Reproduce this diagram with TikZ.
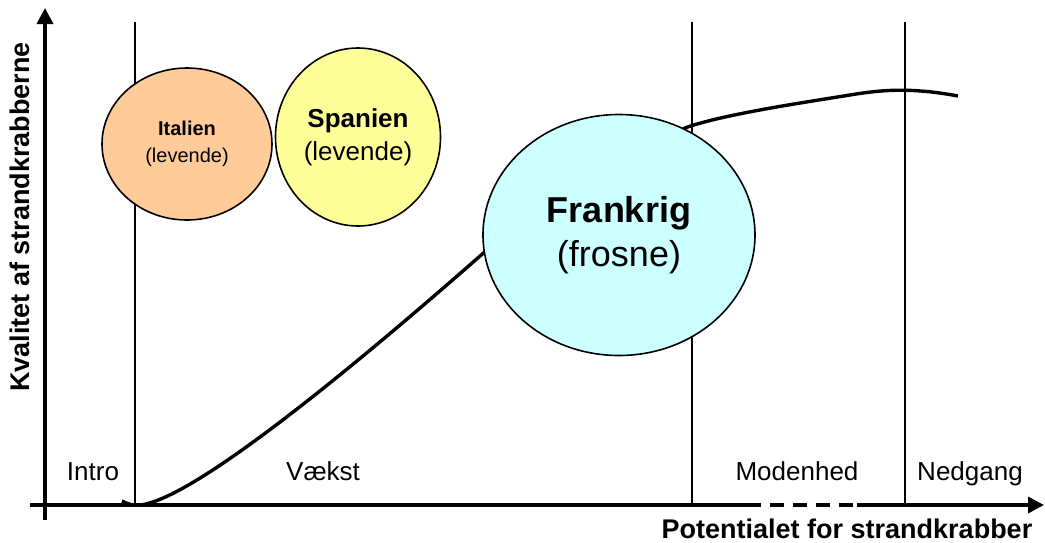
\documentclass[tikz,border=0pt]{standalone}
\usepackage{fontspec}
\setmainfont{Liberation Sans}
\usetikzlibrary{shapes.geometric,arrows.meta}
\begin{document}
\begin{tikzpicture}[x=1pt,y=-1pt,
  axisline/.style={line width=3.4pt},
  phaseline/.style={line width=1.8pt},
  curveline/.style={line width=3.4pt,line join=round},
  blob/.style={ellipse,draw,line width=1.6pt,inner sep=0pt,align=center},
  lbl/.style={font=\fontsize{26}{31}\selectfont,anchor=base},
  axtitle/.style={font=\bfseries\fontsize{27}{32}\selectfont,anchor=base}]
\useasboundingbox (0,0) rectangle (1045,542);
% phase lines
\coordinate (p1t) at (135,22); \coordinate (p1b) at (135,505);
\coordinate (p2t) at (692,22); \coordinate (p2b) at (692,505);
\coordinate (p3t) at (905,22); \coordinate (p3b) at (905,503);
\draw[phaseline] (p1t) -- (p1b);
\draw[phaseline] (p2t) -- (p2b);
\draw[phaseline] (p3t) -- (p3b);
% curve
\coordinate (c0) at (122,501);
\coordinate (c1) at (140,505);
\coordinate (c2) at (488,249);
\coordinate (c3) at (685,128);
\coordinate (c4) at (850,95);
\coordinate (c5) at (958,96);
\draw[curveline] (c0) .. controls (128,504) and (132,505.5) .. (c1)
  .. controls (190,500) and (337,382) .. (c2) -- (c3)
  .. controls (720,115) and (800,103) .. (c4)
  .. controls (880,90) and (910,87) .. (c5);
% ellipses
\node[blob,fill={rgb,255:red,255;green,204;blue,153},minimum width=170pt,minimum height=152pt,font=\fontsize{20}{27}\selectfont] (italien) at (187,144) {\bfseries Italien\\(levende)};
\node[blob,fill={rgb,255:red,255;green,255;blue,153},minimum width=165pt,minimum height=178pt,font=\fontsize{26}{33}\selectfont] (spanien) at (358,137) {\bfseries Spanien\\(levende)};
\node[blob,fill={rgb,255:red,204;green,255;blue,255},minimum width=272pt,minimum height=241pt,font=\fontsize{36}{44}\selectfont] (frankrig) at (619,235) {\bfseries Frankrig\\(frosne)};
% axes
\coordinate (yb) at (45,520); \coordinate (yt) at (45,8);
\coordinate (xl) at (30,505); \coordinate (d1) at (747,505);
\coordinate (d2) at (857,505); \coordinate (xr) at (1044,505);
\draw[axisline,-{Triangle[length=16pt,width=16pt]}] (yb) -- (yt);
\draw[axisline] (xl) -- (d1);
\draw[axisline,dash pattern=on 14pt off 9pt] (d1) -- (d2);
\draw[axisline,-{Triangle[length=16pt,width=16pt]}] (d2) -- (xr);
% phase labels
\node[lbl] (intro) at (93,480) {Intro};
\node[lbl] (vaekst) at (323,480) {Vækst};
\node[lbl] (moden) at (797,480) {Modenhed};
\node[lbl] (nedgang) at (970,480) {Nedgang};
% axis titles
\node[axtitle] (xtitle) at (847,538) {Potentialet for strandkrabber};
\node[axtitle,rotate=90] (ytitle) at (29,217) {Kvalitet af strandkrabberne};
\end{tikzpicture}
\end{document}
